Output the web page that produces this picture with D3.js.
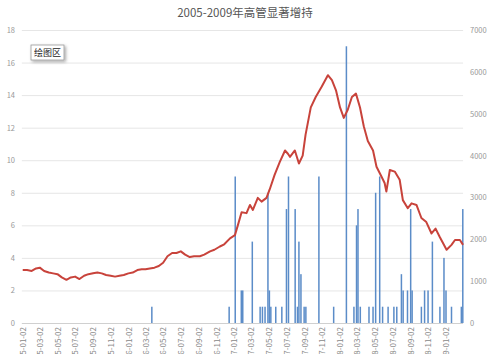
<!DOCTYPE html>
<html><head><meta charset="utf-8">
<script src="https://cdn.jsdelivr.net/npm/d3@7"></script>
<style>body{margin:0;background:#fff;}svg{display:block;font-family:"Noto Sans CJK SC","Noto Sans",sans-serif;}</style>
</head><body><svg id="c" width="493" height="354"></svg>
<script>
const title = "2005-2009年高管显著增持";
const plotLabel = "绘图区";
const xTickLabels = ["2005-01-02","2005-03-02","2005-05-02","2005-07-02","2005-09-02","2005-11-02",
"2006-01-02","2006-03-02","2006-05-02","2006-07-02","2006-09-02","2006-11-02",
"2007-01-02","2007-03-02","2007-05-02","2007-07-02","2007-09-02","2007-11-02",
"2008-01-02","2008-03-02","2008-05-02","2008-07-02","2008-09-02","2008-11-02","2009-01-02"];
const leftTicks = [0,2,4,6,8,10,12,14,16,18];
const rightTicks = [0,1000,2000,3000,4000,5000,6000,7000];
// index line (right axis)
const lineDates = ["2005-01-01","2005-01-16","2005-02-01","2005-02-16","2005-03-01","2005-03-16","2005-04-01","2005-04-16","2005-05-01","2005-05-16","2005-06-01","2005-06-16","2005-07-01","2005-07-16","2005-08-01","2005-08-16","2005-09-01","2005-09-16","2005-10-01","2005-10-16","2005-11-01","2005-11-16","2005-12-01","2005-12-16",
"2006-01-01","2006-01-16","2006-02-01","2006-02-16","2006-03-01","2006-03-16","2006-04-01","2006-04-16","2006-05-01","2006-05-16","2006-06-01","2006-06-16","2006-07-01","2006-07-16","2006-08-01","2006-08-16","2006-09-05","2006-09-20","2006-10-10","2006-10-25","2006-11-13","2006-11-28","2006-12-18",
"2007-01-04","2007-01-14","2007-01-27","2007-02-13","2007-02-25","2007-03-07","2007-03-24","2007-04-06","2007-04-23","2007-05-04","2007-05-21","2007-06-08","2007-06-26","2007-07-06","2007-07-13","2007-07-30","2007-08-13","2007-08-26","2007-09-05","2007-09-23","2007-10-10","2007-10-31","2007-11-21","2007-12-05","2007-12-19",
"2008-01-02","2008-01-15","2008-01-29","2008-02-12","2008-02-26","2008-03-11","2008-03-24","2008-04-07","2008-04-25","2008-05-07","2008-05-24","2008-06-04","2008-06-10","2008-06-22","2008-07-09","2008-07-26","2008-08-06","2008-08-23","2008-09-05","2008-09-22","2008-10-09","2008-10-26","2008-11-13","2008-11-27","2008-12-11",
"2009-01-04","2009-01-21","2009-02-02","2009-02-19","2009-03-02"];
const lineValues = [1264,1264,1244,1303,1322,1244,1206,1186,1167,1089,1031,1089,1108,1050,1128,1167,1186,1206,1186,1147,1128,1108,1128,1147,
1186,1206,1264,1283,1283,1303,1322,1361,1439,1594,1672,1672,1711,1633,1575,1594,1594,1633,1711,1750,1828,1880,2022,
2100,2333,2644,2625,2820,2700,2990,2900,2990,3190,3540,3850,4122,4044,3970,4122,3811,4000,4500,5150,5400,5650,5920,5800,5560,
5150,4900,5100,5400,5480,5150,4700,4350,4122,3733,3500,3345,3139,3656,3617,3422,2936,2742,2858,2820,2508,2411,2139,2256,2061,
1750,1867,1983,1983,1867];
// bars (left axis)
const barDates = ["2006-03-23","2006-12-15","2007-01-05","2007-01-26","2007-01-31","2007-03-05","2007-04-01","2007-04-09","2007-04-18","2007-04-28","2007-05-03","2007-05-08","2007-05-25","2007-06-15","2007-07-01","2007-07-08","2007-07-31","2007-08-08","2007-08-13","2007-08-20","2007-08-31","2007-09-06","2007-10-21","2007-12-11",
"2008-01-24","2008-02-19","2008-02-28","2008-03-04","2008-03-12","2008-04-11","2008-04-25","2008-05-04","2008-05-18","2008-05-28","2008-06-16","2008-07-06","2008-07-16","2008-08-01","2008-08-07","2008-08-22","2008-09-02","2008-09-07","2008-10-09","2008-10-20","2008-11-01","2008-11-16","2008-12-12","2008-12-26","2009-01-02","2009-01-21","2009-02-24","2009-03-01"];
const barValues = [1,1,9,2,2,5,1,1,1,8,2,1,1,1,7,9,7,1,5,3,1,1,9,1,
17,1,6,7,1,1,1,8,9,1,1,1,1,3,2,2,7,2,1,2,2,5,1,4,2,1,1,7];

const parse = d3.timeParse("%Y-%m-%d");
const svg = d3.select("#c");
const x = d3.scaleTime().domain([parse("2005-01-02"), parse("2009-01-02")]).range([23, 446]);
const yL = d3.scaleLinear().domain([0,18]).range([323,30]);
const yR = d3.scaleLinear().domain([0,7000]).range([323,30]);
const x0 = x(parse("2004-12-29")), x1 = x(parse("2009-03-02"));

svg.append("text").attr("x",245).attr("y",17).attr("text-anchor","middle")
  .attr("font-size",11.5).attr("fill","#555").text(title);

// gridlines
svg.append("g").selectAll("line").data(leftTicks).join("line")
  .attr("x1",x0).attr("x2",x1).attr("y1",d=>yL(d)+0.5).attr("y2",d=>yL(d)+0.5)
  .attr("stroke",d=>d===0?"#d0d0d0":"#e6e6e6").attr("stroke-width",1);

// left axis labels
svg.append("g").selectAll("text").data(leftTicks).join("text")
  .attr("x",15).attr("y",d=>yL(d)+3).attr("text-anchor","end")
  .attr("font-size",7.5).attr("fill","#999").text(d=>d);
// right axis labels
svg.append("g").selectAll("text").data(rightTicks).join("text")
  .attr("x",470).attr("y",d=>yR(d)+3).attr("text-anchor","start")
  .attr("font-size",7.5).attr("fill","#999").text(d=>d);

// bars
svg.append("g").selectAll("rect").data(barDates.map((d,i)=>({d:parse(d),v:barValues[i]}))).join("rect")
  .attr("x",d=>x(d.d)-0.75).attr("width",1.5)
  .attr("y",d=>yL(d.v)).attr("height",d=>yL(0)-yL(d.v))
  .attr("fill","#5b8cc8");

// line
const lineData = lineDates.map((d,i)=>({d:parse(d),v:lineValues[i]}));
svg.append("path").datum(lineData)
  .attr("d", d3.line().x(d=>x(d.d)).y(d=>yR(d.v)).curve(d3.curveLinear))
  .attr("fill","none").attr("stroke","#c8433b").attr("stroke-width",2).attr("stroke-linejoin","round");

// x labels
svg.append("g").selectAll("text").data(xTickLabels).join("text")
  .attr("transform",d=>`translate(${x(parse(d))+3},327) rotate(-90)`)
  .attr("text-anchor","end").attr("font-size",8).attr("fill","#888").text(d=>d);

// plot area tooltip
const defs = svg.append("defs");
const f = defs.append("filter").attr("id","sh").attr("x","-30%").attr("y","-30%").attr("width","160%").attr("height","160%");
f.append("feDropShadow").attr("dx",1.5).attr("dy",1.5).attr("stdDeviation",1.5).attr("flood-color","#000").attr("flood-opacity",0.35);
svg.append("rect").attr("x",31).attr("y",45).attr("width",33).attr("height",15)
  .attr("fill","#fff").attr("stroke","#999").attr("stroke-width",0.8).attr("filter","url(#sh)");
svg.append("text").attr("x",47.5).attr("y",56).attr("text-anchor","middle")
  .attr("font-size",9).attr("fill","#222").text(plotLabel);
</script></body></html>
